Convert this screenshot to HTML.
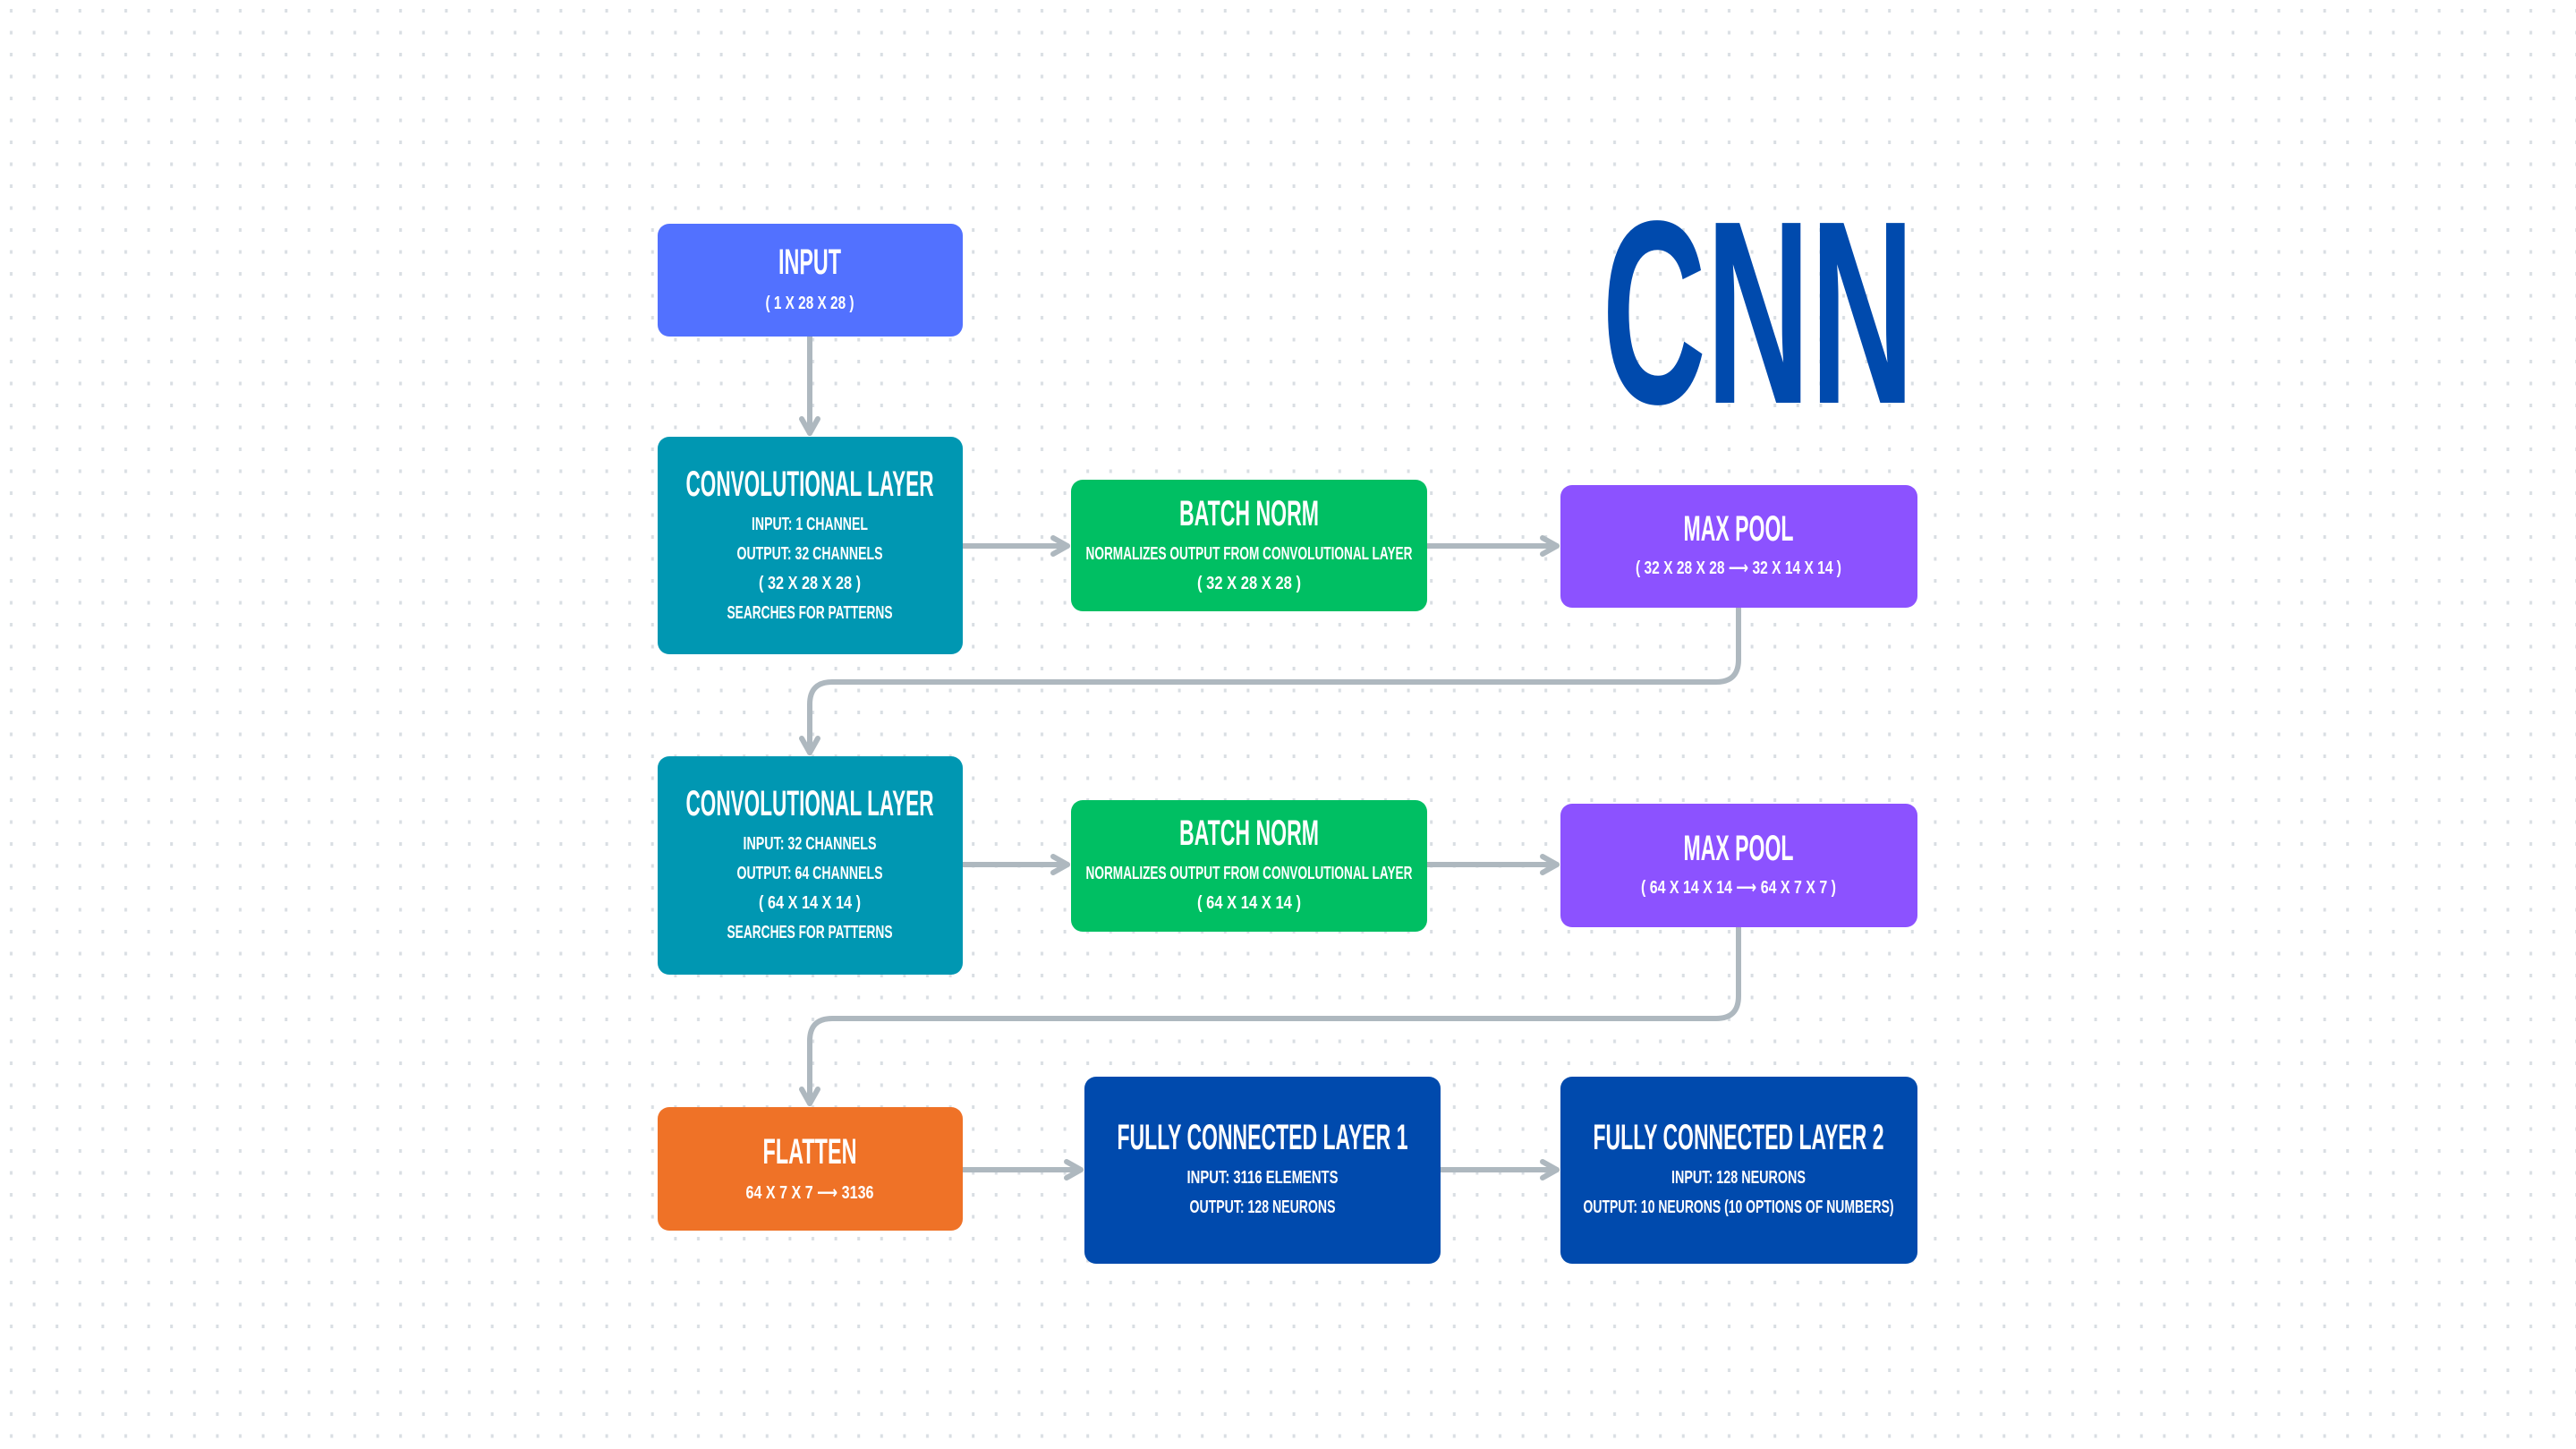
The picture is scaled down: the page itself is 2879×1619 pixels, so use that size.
<!DOCTYPE html>
<html><head><meta charset="utf-8"><style>
html,body{margin:0;padding:0;background:#fff}
svg{display:block}
text{font-family:"Liberation Sans","DejaVu Sans",sans-serif;font-weight:bold;fill:#fff;text-anchor:middle;dominant-baseline:central}
</style></head><body>
<svg width="2879" height="1619" viewBox="0 0 2879 1619" xmlns="http://www.w3.org/2000/svg">
<defs>
<pattern id="dots" x="0" y="0" width="25.6" height="24.5" patternUnits="userSpaceOnUse">
<rect x="11" y="10" width="3" height="4" fill="#d9dee3"/>
</pattern>
</defs>
<rect width="2879" height="1619" fill="url(#dots)"/>

<g stroke="#aeb8bf" stroke-width="6" fill="none" stroke-linecap="round" stroke-linejoin="round">
<path d="M905 376 V484"/><path d="M896 468 L905 484 L914 468"/>
<path d="M1076 610 H1193"/><path d="M1177 601 L1193 610 L1177 619"/>
<path d="M1595 610 H1740"/><path d="M1724 601 L1740 610 L1724 619"/>
<path d="M1943 679 V737 Q1943 762 1918 762 H930 Q905 762 905 787 V841"/><path d="M896 825 L905 841 L914 825"/>
<path d="M1076 966 H1193"/><path d="M1177 957 L1193 966 L1177 975"/>
<path d="M1595 966 H1740"/><path d="M1724 957 L1740 966 L1724 975"/>
<path d="M1943 1036 V1113 Q1943 1138 1918 1138 H930 Q905 1138 905 1163 V1233"/><path d="M896 1217 L905 1233 L914 1217"/>
<path d="M1076 1307 H1208"/><path d="M1192 1298 L1208 1307 L1192 1316"/>
<path d="M1610 1307 H1740"/><path d="M1724 1298 L1740 1307 L1724 1316"/>
</g>

<rect x="735" y="250" width="341" height="126" rx="13" fill="#5271ff"/>
<text x="905" y="293" font-size="40" textLength="70" lengthAdjust="spacingAndGlyphs">INPUT</text>
<text x="905" y="339" font-size="20" textLength="99" lengthAdjust="spacingAndGlyphs">( 1 X 28 X 28 )</text>

<rect x="735" y="488" width="341" height="243" rx="13" fill="#0097b2"/>
<text x="905" y="541" font-size="40" textLength="277" lengthAdjust="spacingAndGlyphs">CONVOLUTIONAL LAYER</text>
<text x="905" y="586" font-size="20" textLength="130" lengthAdjust="spacingAndGlyphs">INPUT: 1 CHANNEL</text>
<text x="905" y="619" font-size="20" textLength="163" lengthAdjust="spacingAndGlyphs">OUTPUT: 32 CHANNELS</text>
<text x="905" y="652" font-size="20" textLength="114" lengthAdjust="spacingAndGlyphs">( 32 X 28 X 28 )</text>
<text x="905" y="685" font-size="20" textLength="185" lengthAdjust="spacingAndGlyphs">SEARCHES FOR PATTERNS</text>

<rect x="1197" y="536" width="398" height="147" rx="13" fill="#00bf63"/>
<text x="1396" y="574" font-size="40" textLength="156" lengthAdjust="spacingAndGlyphs">BATCH NORM</text>
<text x="1396" y="619" font-size="20" textLength="365" lengthAdjust="spacingAndGlyphs">NORMALIZES OUTPUT FROM CONVOLUTIONAL LAYER</text>
<text x="1396" y="652" font-size="20" textLength="116" lengthAdjust="spacingAndGlyphs">( 32 X 28 X 28 )</text>

<rect x="1744" y="542" width="399" height="137" rx="13" fill="#8c52ff"/>
<text x="1943" y="591" font-size="40" textLength="123" lengthAdjust="spacingAndGlyphs">MAX POOL</text>
<text x="1943" y="635" font-size="20" textLength="230" lengthAdjust="spacingAndGlyphs">( 32 X 28 X 28 ⟶ 32 X 14 X 14 )</text>

<rect x="735" y="845" width="341" height="244" rx="13" fill="#0097b2"/>
<text x="905" y="898" font-size="40" textLength="277" lengthAdjust="spacingAndGlyphs">CONVOLUTIONAL LAYER</text>
<text x="905" y="943" font-size="20" textLength="149" lengthAdjust="spacingAndGlyphs">INPUT: 32 CHANNELS</text>
<text x="905" y="976" font-size="20" textLength="163" lengthAdjust="spacingAndGlyphs">OUTPUT: 64 CHANNELS</text>
<text x="905" y="1009" font-size="20" textLength="114" lengthAdjust="spacingAndGlyphs">( 64 X 14 X 14 )</text>
<text x="905" y="1042" font-size="20" textLength="185" lengthAdjust="spacingAndGlyphs">SEARCHES FOR PATTERNS</text>

<rect x="1197" y="894" width="398" height="147" rx="13" fill="#00bf63"/>
<text x="1396" y="931" font-size="40" textLength="156" lengthAdjust="spacingAndGlyphs">BATCH NORM</text>
<text x="1396" y="976" font-size="20" textLength="365" lengthAdjust="spacingAndGlyphs">NORMALIZES OUTPUT FROM CONVOLUTIONAL LAYER</text>
<text x="1396" y="1009" font-size="20" textLength="116" lengthAdjust="spacingAndGlyphs">( 64 X 14 X 14 )</text>

<rect x="1744" y="898" width="399" height="138" rx="13" fill="#8c52ff"/>
<text x="1943" y="948" font-size="40" textLength="123" lengthAdjust="spacingAndGlyphs">MAX POOL</text>
<text x="1943" y="992" font-size="20" textLength="218" lengthAdjust="spacingAndGlyphs">( 64 X 14 X 14 ⟶ 64 X 7 X 7 )</text>

<rect x="735" y="1237" width="341" height="138" rx="13" fill="#ef7227"/>
<text x="905" y="1287" font-size="40" textLength="105" lengthAdjust="spacingAndGlyphs">FLATTEN</text>
<text x="905" y="1333" font-size="20" textLength="143" lengthAdjust="spacingAndGlyphs">64 X 7 X 7 ⟶ 3136</text>

<rect x="1212" y="1203" width="398" height="209" rx="13" fill="#004aad"/>
<text x="1411" y="1271" font-size="40" textLength="325" lengthAdjust="spacingAndGlyphs">FULLY CONNECTED LAYER 1</text>
<text x="1411" y="1316" font-size="20" textLength="169" lengthAdjust="spacingAndGlyphs">INPUT: 3116 ELEMENTS</text>
<text x="1411" y="1349" font-size="20" textLength="163" lengthAdjust="spacingAndGlyphs">OUTPUT: 128 NEURONS</text>

<rect x="1744" y="1203" width="399" height="209" rx="13" fill="#004aad"/>
<text x="1943" y="1271" font-size="40" textLength="325" lengthAdjust="spacingAndGlyphs">FULLY CONNECTED LAYER 2</text>
<text x="1943" y="1316" font-size="20" textLength="150" lengthAdjust="spacingAndGlyphs">INPUT: 128 NEURONS</text>
<text x="1943" y="1349" font-size="20" textLength="347" lengthAdjust="spacingAndGlyphs">OUTPUT: 10 NEURONS (10 OPTIONS OF NUMBERS)</text>

<text x="1965" y="450" font-size="292" textLength="349" lengthAdjust="spacingAndGlyphs" style="fill:#004aad;dominant-baseline:alphabetic">CNN</text>
</svg>
</body></html>
